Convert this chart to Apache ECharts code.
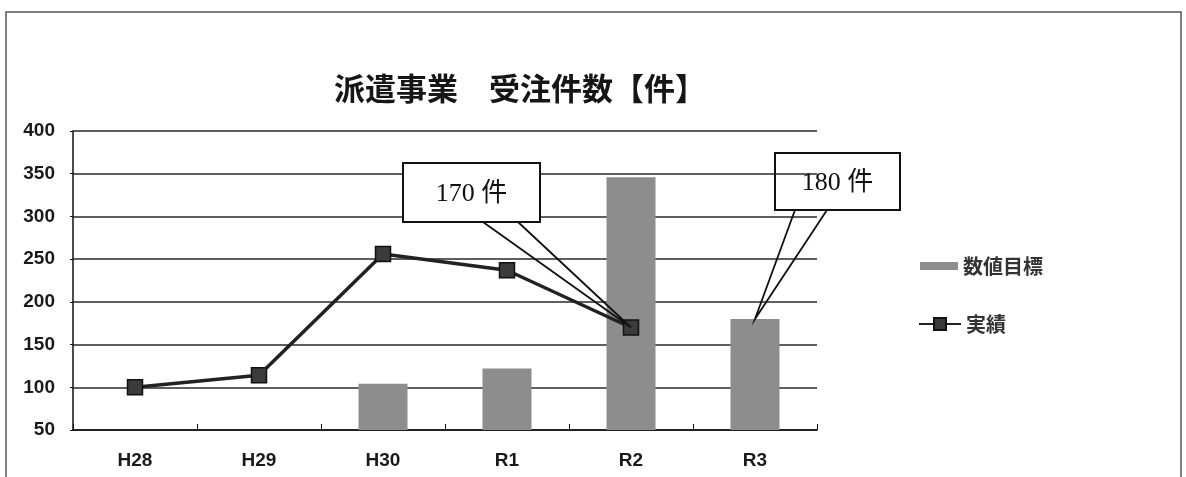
<!DOCTYPE html>
<html>
<head>
<meta charset="utf-8">
<script src="https://cdn.jsdelivr.net/npm/echarts@6/dist/echarts.min.js"></script>
<style>
  html, body { margin: 0; padding: 0; background: #fff; }
  #chart { width: 1186px; height: 477px; }
</style>
</head>
<body>
<div id="chart"></div>
<script>
// Fiscal years (Heisei / Reiwa)
const categories = ['H28', 'H29', 'H30', 'R1', 'R2', 'R3'];
// 数値目標 (bars)
const targetValues = [null, null, 104, 122, 346, 180];
// 実績 (line)
const actualValues = [100, 114, 256, 237, 170, null];
// Value axis ticks
const yMin = 50;
const yMax = 400;
const yStep = 50;

const axisFont = '"Liberation Sans Narrow", "Liberation Sans", Arial, sans-serif';
const cjkFont = '"Noto Sans CJK JP", sans-serif';
const serifFont = '"Liberation Serif", "Noto Sans CJK JP", serif';

const chart = echarts.init(document.getElementById('chart'));

chart.setOption({
  backgroundColor: '#fff',
  animation: false,
  title: {
    text: '派遣事業　受注件数【件】',
    left: 515,
    top: 68,
    textAlign: 'center',
    textStyle: { fontFamily: cjkFont, fontSize: 31, fontWeight: 'bold', color: '#161616' }
  },
  grid: { left: 73, right: 369, top: 131, bottom: 47, containLabel: false },
  legend: [
    {
      left: 915, top: 251, orient: 'vertical',
      itemWidth: 38, itemHeight: 8, itemGap: 0,
      data: [{ name: '数値目標', icon: 'rect' }],
      textStyle: { fontFamily: cjkFont, fontSize: 20, fontWeight: 'bold', color: '#333' }
    },
    {
      left: 913, top: 309, orient: 'vertical',
      itemWidth: 42, itemHeight: 15, itemGap: 0,
      data: ['実績'],
      textStyle: { fontFamily: cjkFont, fontSize: 20, fontWeight: 'bold', color: '#333' }
    }
  ],
  xAxis: {
    type: 'category',
    data: categories,
    boundaryGap: true,
    axisLine: { show: true, lineStyle: { color: '#111', width: 1.5 } },
    axisTick: { show: true, inside: true, length: 6, lineStyle: { color: '#111', width: 1 } },
    axisLabel: { margin: 21, fontFamily: axisFont, fontSize: 19, fontWeight: 'bold', color: '#1a1a1a' }
  },
  yAxis: {
    type: 'value',
    min: yMin, max: yMax, interval: yStep,
    axisLine: { show: true, lineStyle: { color: '#111', width: 1.5 } },
    axisTick: { show: true, length: 3, lineStyle: { color: '#111' } },
    axisLabel: { margin: 18, fontFamily: axisFont, fontSize: 19, fontWeight: 'bold', color: '#1a1a1a' },
    splitLine: { show: true, lineStyle: { color: '#2a2a2a', width: 1.5 } }
  },
  series: [
    {
      name: '数値目標',
      type: 'bar',
      data: targetValues,
      barWidth: 49,
      itemStyle: { color: '#8d8d8d' }
    },
    {
      name: '実績',
      type: 'line',
      data: actualValues,
      symbol: 'rect',
      symbolSize: 15,
      connectNulls: false,
      lineStyle: { color: '#222', width: 3.5 },
      itemStyle: { color: '#3b3b3b', borderColor: '#111', borderWidth: 1.5 },
      z: 5
    }
  ]
});

// Speech-bubble callouts: box placed in the chart area, tail pointing at a data point
function callout(box, tailBase, tip, text, fill) {
  const bottom = box.y + box.h;
  return [
    {
      type: 'rect', z: 100,
      shape: { x: box.x, y: box.y, width: box.w, height: box.h },
      style: { fill: fill, stroke: '#111', lineWidth: 2 }
    },
    {
      type: 'polyline', z: 101,
      shape: { points: [[tailBase[0], bottom], tip, [tailBase[1], bottom]] },
      style: { fill: null, stroke: '#111', lineWidth: 1.8 }
    },
    {
      type: 'text', z: 102,
      x: box.x + box.w / 2, y: box.y + box.h / 2 + 2,
      style: {
        text: text, fill: '#111', font: '26px ' + serifFont,
        align: 'center', verticalAlign: 'middle'
      }
    }
  ];
}

const r2 = categories.indexOf('R2');
const r3 = categories.indexOf('R3');
const tipActual = chart.convertToPixel({ gridIndex: 0 }, [r2, actualValues[r2]]);
const tipTarget = chart.convertToPixel({ gridIndex: 0 }, [r3, targetValues[r3]]);

chart.setOption({
  graphic: [
    // page frame
    { type: 'polyline', z: 90, shape: { points: [[6, 477], [6, 12], [1181, 12], [1181, 477]] },
      style: { fill: null, stroke: '#555', lineWidth: 1.5 } }
  ]
    .concat(callout({ x: 403, y: 163, w: 137, h: 59 }, [483, 518], tipActual, actualValues[r2] + ' 件', '#fff'))
    .concat(callout({ x: 775, y: 153, w: 125, h: 57 }, [795, 827], tipTarget, targetValues[r3] + ' 件', 'rgba(255,255,255,0)'))
});
</script>
</body>
</html>
